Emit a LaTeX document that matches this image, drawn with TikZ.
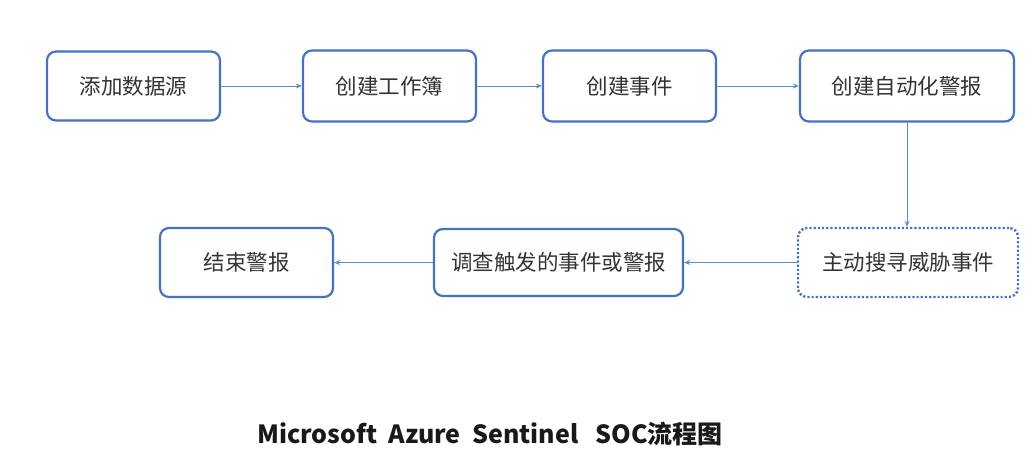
\documentclass[tikz,border=0pt]{standalone}
\usepackage{fontspec}
\newfontfamily\cjk{Noto Sans CJK SC}
\usetikzlibrary{arrows.meta}
\definecolor{boxblue}{HTML}{4472C4}
\definecolor{arrblue}{HTML}{5B8BD0}
\tikzset{
  stepbox/.style={draw=boxblue, line width=2.2pt, rounded corners=9pt, fill=white, inner sep=0pt, font=\cjk\fontsize{21.5}{24}\selectfont, text=black!80},
  dotbox/.style={stepbox, dotted, line width=2.4pt},
  arr/.style={draw=arrblue, line width=1pt, -{Stealth[length=6pt,width=5pt]}}
}
\begin{document}
\begin{tikzpicture}[x=1pt,y=-1pt]
\useasboundingbox (0,0) rectangle (1036,472);
\node[stepbox, minimum width=173pt, minimum height=69pt] (a) at (133.5,86) {添加数据源};
\node[stepbox, minimum width=173pt, minimum height=71pt] (b) at (389.5,86) {创建工作簿};
\node[stepbox, minimum width=173pt, minimum height=71pt] (c) at (629.5,86) {创建事件};
\node[stepbox, minimum width=214pt, minimum height=71pt] (d) at (907,86) {创建自动化警报};
\node[dotbox, minimum width=220pt, minimum height=69pt] (e) at (908,262.5) {主动搜寻威胁事件};
\node[stepbox, minimum width=249pt, minimum height=67pt] (f) at (558.5,262.5) {调查触发的事件或警报};
\node[stepbox, minimum width=173pt, minimum height=69pt] (g) at (246.5,262.5) {结束警报};
\draw[arr] (a) -- (b);
\draw[arr] (b) -- (c);
\draw[arr] (c) -- (d);
\draw[arr] (d.south) -- (d.south |- e.north);
\draw[arr] (e) -- (f);
\draw[arr] (f) -- (g);
\node[font=\cjk\bfseries\fontsize{25}{30}\selectfont, text=black!90] (t) at (490,434) {Microsoft\ \ Azure\ \ Sentinel\ \ \ SOC流程图};
\end{tikzpicture}
\end{document}
